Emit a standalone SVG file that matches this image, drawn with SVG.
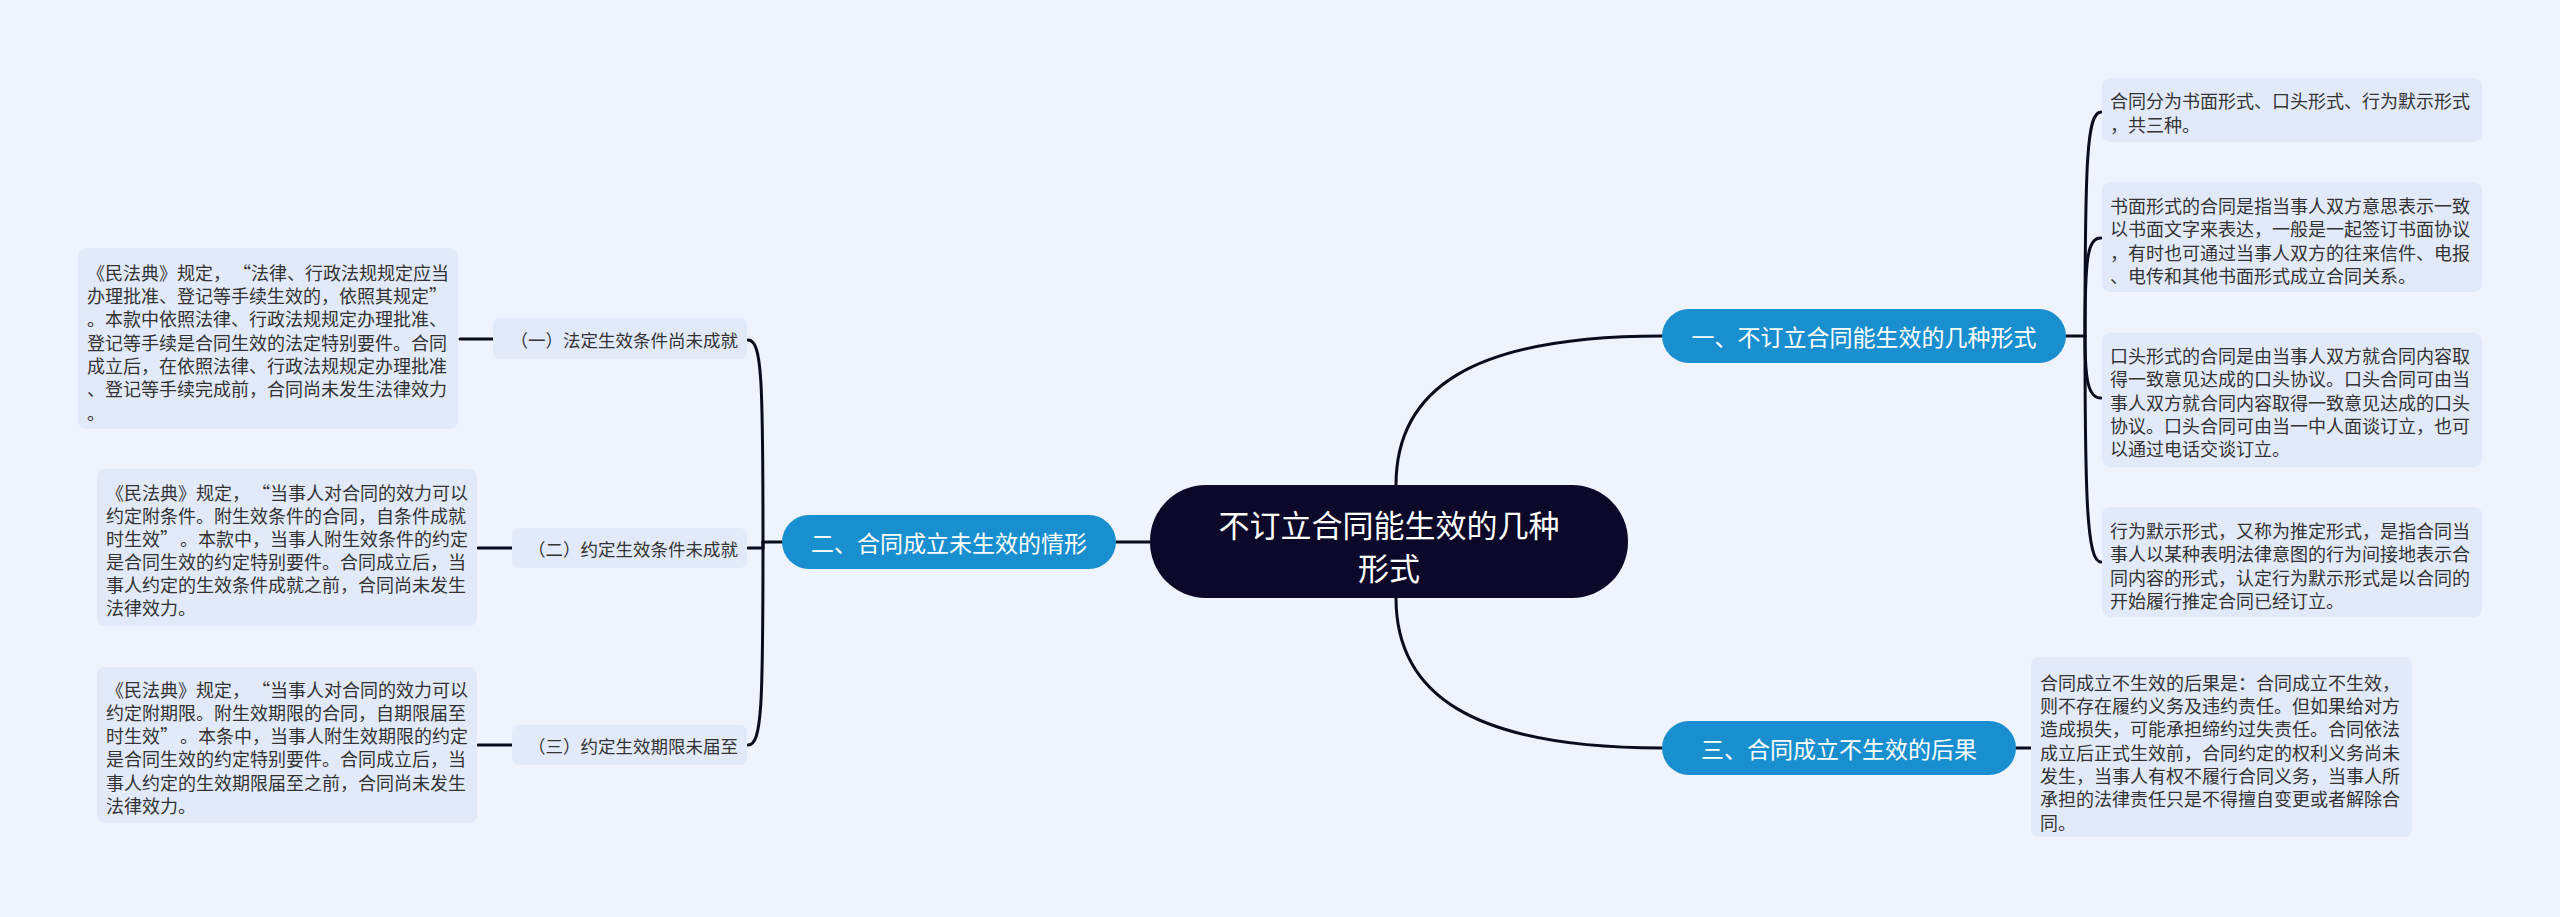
<svg xmlns="http://www.w3.org/2000/svg" width="2560" height="917" viewBox="0 0 2560 917">
<style>
text{font-family:"Noto Sans CJK SC","Noto Sans",sans-serif;dominant-baseline:central}
.bg{fill:#EEF3FD}
.box{fill:#E2EAFA}
.det{font-size:18px;fill:#333}
.sub{font-size:17.5px;fill:#333;text-anchor:end}
.br{fill:#1A8FD0}
.brt{font-size:23px;fill:#fff;text-anchor:middle}
.ctr{fill:#0B0829}
.ctt{font-size:31px;fill:#fff;text-anchor:middle}
.ln{fill:none;stroke:#0B0B1E;stroke-width:3;stroke-linecap:round}
</style>
<rect class="bg" x="0" y="0" width="2560" height="917"/>
<g id="connectors">
<path class="ln" d="M1396,485 C1396,390 1470,336 1662,336"/>
<path class="ln" d="M1396,598 C1396,693 1470,748 1662,748"/>
<path class="ln" d="M1150,542 H1116"/>
<path class="ln" d="M782,542 H763"/>
<path class="ln" d="M763,542 C763,380 762,340 748,340"/>
<path class="ln" d="M763,542 V548 H748"/>
<path class="ln" d="M763,542 C763,705 762,745 748,745"/>
<path class="ln" d="M493,339 H460"/>
<path class="ln" d="M512,548 H478"/>
<path class="ln" d="M512,745 H478"/>
<path class="ln" d="M2066,336 H2085"/>
<path class="ln" d="M2085,336 C2085,160 2087,112 2101,112"/>
<path class="ln" d="M2085,336 C2085,260 2087,238 2101,238"/>
<path class="ln" d="M2085,336 C2085,380 2088,398 2101,398"/>
<path class="ln" d="M2085,336 C2085,500 2087,562 2101,562"/>
<path class="ln" d="M2016,748 H2031"/>
</g>
<g id="center">
<rect class="ctr" x="1150" y="485" width="478" height="113" rx="56"/>
<text class="ctt" x="1389" y="523">不订立合同能生效的几种</text>
<text class="ctt" x="1389" y="566">形式</text>
</g>
<g id="branch1">
<rect class="br" x="1662" y="309" width="404" height="54" rx="27"/>
<text class="brt" x="1864" y="336">一、不订立合同能生效的几种形式</text>
</g>
<g id="branch2">
<rect class="br" x="782" y="515" width="334" height="54" rx="27"/>
<text class="brt" x="949" y="542">二、合同成立未生效的情形</text>
</g>
<g id="branch3">
<rect class="br" x="1662" y="721" width="354" height="54" rx="27"/>
<text class="brt" x="1839" y="748">三、合同成立不生效的后果</text>
</g>
<g id="sub1">
<rect class="box" x="493" y="318" width="254" height="41" rx="7"/>
<text class="sub" x="738" y="339">（一）法定生效条件尚未成就</text>
</g>
<g id="sub2">
<rect class="box" x="512" y="528" width="235" height="40" rx="7"/>
<text class="sub" x="738" y="548">（二）约定生效条件未成就</text>
</g>
<g id="sub3">
<rect class="box" x="512" y="725" width="235" height="40" rx="7"/>
<text class="sub" x="738" y="745">（三）约定生效期限未届至</text>
</g>
<g id="detail1">
<rect class="box" x="78" y="248" width="380" height="181" rx="8"/>
<text class="det" x="87" y="272">《民法典》规定，<tspan dx="11">“</tspan>法律、行政法规规定应当</text>
<text class="det" x="87" y="295">办理批准、登记等手续生效的，依照其规定”</text>
<text class="det" x="87" y="318">。本款中依照法律、行政法规规定办理批准、</text>
<text class="det" x="87" y="342">登记等手续是合同生效的法定特别要件。合同</text>
<text class="det" x="87" y="365">成立后，在依照法律、行政法规规定办理批准</text>
<text class="det" x="87" y="388">、登记等手续完成前，合同尚未发生法律效力</text>
<text class="det" x="87" y="412">。</text>
</g>
<g id="detail2">
<rect class="box" x="97" y="469" width="380" height="157" rx="8"/>
<text class="det" x="106" y="492">《民法典》规定，<tspan dx="11">“</tspan>当事人对合同的效力可以</text>
<text class="det" x="106" y="515">约定附条件。附生效条件的合同，自条件成就</text>
<text class="det" x="106" y="538">时生效”<tspan dx="11">。</tspan>本款中，当事人附生效条件的约定</text>
<text class="det" x="106" y="561">是合同生效的约定特别要件。合同成立后，当</text>
<text class="det" x="106" y="584">事人约定的生效条件成就之前，合同尚未发生</text>
<text class="det" x="106" y="607">法律效力。</text>
</g>
<g id="detail3">
<rect class="box" x="97" y="667" width="380" height="156" rx="8"/>
<text class="det" x="106" y="689">《民法典》规定，<tspan dx="11">“</tspan>当事人对合同的效力可以</text>
<text class="det" x="106" y="712">约定附期限。附生效期限的合同，自期限届至</text>
<text class="det" x="106" y="735">时生效”<tspan dx="11">。</tspan>本条中，当事人附生效期限的约定</text>
<text class="det" x="106" y="758">是合同生效的约定特别要件。合同成立后，当</text>
<text class="det" x="106" y="782">事人约定的生效期限届至之前，合同尚未发生</text>
<text class="det" x="106" y="805">法律效力。</text>
</g>
<g id="detail4">
<rect class="box" x="2102" y="78" width="380" height="64" rx="8"/>
<text class="det" x="2110" y="100">合同分为书面形式、口头形式、行为默示形式</text>
<text class="det" x="2110" y="124">，共三种。</text>
</g>
<g id="detail5">
<rect class="box" x="2102" y="182" width="380" height="110" rx="8"/>
<text class="det" x="2110" y="205">书面形式的合同是指当事人双方意思表示一致</text>
<text class="det" x="2110" y="228">以书面文字来表达，一般是一起签订书面协议</text>
<text class="det" x="2110" y="252">，有时也可通过当事人双方的往来信件、电报</text>
<text class="det" x="2110" y="275">、电传和其他书面形式成立合同关系。</text>
</g>
<g id="detail6">
<rect class="box" x="2102" y="333" width="380" height="134" rx="8"/>
<text class="det" x="2110" y="355">口头形式的合同是由当事人双方就合同内容取</text>
<text class="det" x="2110" y="378">得一致意见达成的口头协议。口头合同可由当</text>
<text class="det" x="2110" y="402">事人双方就合同内容取得一致意见达成的口头</text>
<text class="det" x="2110" y="425">协议。口头合同可由当一中人面谈订立，也可</text>
<text class="det" x="2110" y="448">以通过电话交谈订立。</text>
</g>
<g id="detail7">
<rect class="box" x="2102" y="507" width="380" height="110" rx="8"/>
<text class="det" x="2110" y="530">行为默示形式，又称为推定形式，是指合同当</text>
<text class="det" x="2110" y="553">事人以某种表明法律意图的行为间接地表示合</text>
<text class="det" x="2110" y="577">同内容的形式，认定行为默示形式是以合同的</text>
<text class="det" x="2110" y="600">开始履行推定合同已经订立。</text>
</g>
<g id="detail8">
<rect class="box" x="2031" y="657" width="381" height="180" rx="8"/>
<text class="det" x="2040" y="682">合同成立不生效的后果是：合同成立不生效，</text>
<text class="det" x="2040" y="705">则不存在履约义务及违约责任。但如果给对方</text>
<text class="det" x="2040" y="728">造成损失，可能承担缔约过失责任。合同依法</text>
<text class="det" x="2040" y="752">成立后正式生效前，合同约定的权利义务尚未</text>
<text class="det" x="2040" y="775">发生，当事人有权不履行合同义务，当事人所</text>
<text class="det" x="2040" y="798">承担的法律责任只是不得擅自变更或者解除合</text>
<text class="det" x="2040" y="822">同。</text>
</g>
</svg>
